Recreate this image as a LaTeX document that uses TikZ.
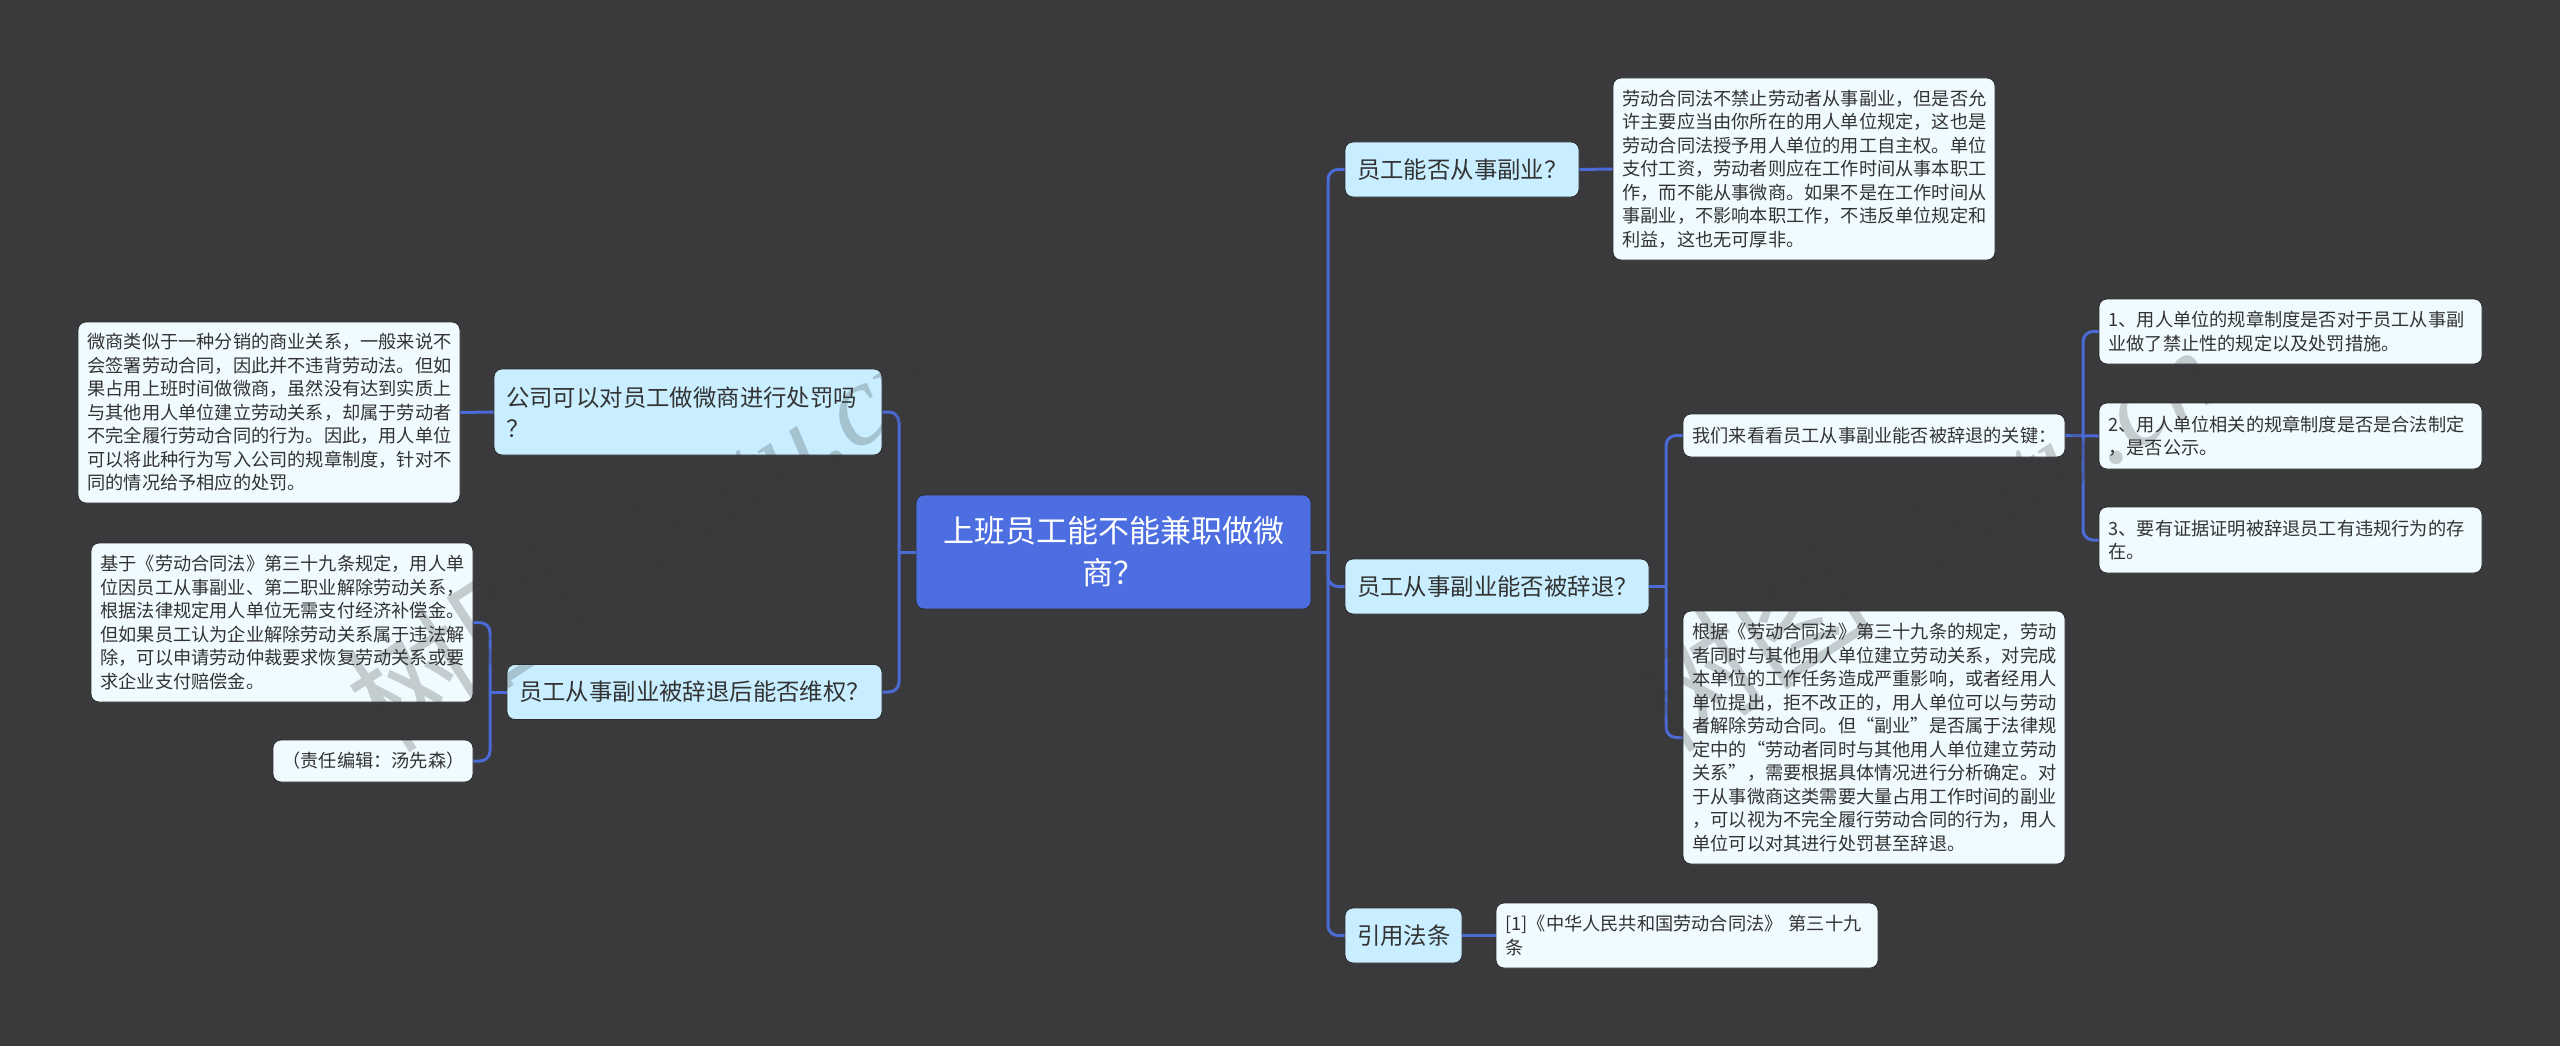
\documentclass[tikz,border=0pt]{standalone}
\usepackage{fontspec}
\setmainfont{Noto Sans CJK SC}
\newfontfamily\wmlatin{Liberation Serif}[ItalicFont={Liberation Serif Italic}]
\definecolor{bgc}{HTML}{3A393B}
\definecolor{linec}{HTML}{4A6BD6}
\definecolor{rootc}{HTML}{4C6EE0}
\definecolor{branchc}{HTML}{C8EEFF}
\definecolor{leafc}{HTML}{F0FBFF}
\definecolor{inkc}{HTML}{333333}
\definecolor{edgec}{HTML}{2C2C2E}
\definecolor{markc}{HTML}{38373A}
\tikzset{
  x=1pt,y=-1pt,
  card/.style={rectangle,rounded corners=8pt,inner sep=0pt,draw=edgec,line width=0.8pt},
  rootbox/.style={card,fill=rootc,text=white,align=center,font=\fontsize{31}{42}\selectfont},
  branchbox/.style 2 args={card,fill=branchc,text=inkc,align=left,
    minimum width=#1pt,minimum height=#2pt,text width={#1pt-24pt},font=\fontsize{23.4}{31}\selectfont},
  leafbox/.style 2 args={card,fill=leafc,text=inkc,align=left,
    minimum width=#1pt,minimum height=#2pt,text width={#1pt-19pt},font=\fontsize{18.2}{23.5}\selectfont},
  conn/.style={draw=linec,line width=3pt,rounded corners=10pt},
  mark text/.style={text=markc,text opacity=0.24,rotate=33,inner sep=0pt},
}
\begin{document}
\begin{tikzpicture}
\fill[bgc] (0,0) rectangle (2560,1046);
\useasboundingbox (0,0) rectangle (2560,1046);

\node[rootbox,minimum width=395pt,minimum height=114pt,text width=370pt] (root) at (1113.5,552) {上班员工能不能兼职做微\\商？};

% left side
\node[branchbox={388}{86}] (bl1) at (688,412) {公司可以对员工做微商进行处罚吗\\？};
\node[branchbox={375}{55}] (bl2) at (694.5,692) {员工从事副业被辞退后能否维权？};
\node[leafbox={382}{181}] (ll1) at (269,412.5) {微商类似于一种分销的商业关系，一般来说不\\会签署劳动合同，因此并不违背劳动法。但如\\果占用上班时间做微商，虽然没有达到实质上\\与其他用人单位建立劳动关系，却属于劳动者\\不完全履行劳动合同的行为。因此，用人单位\\可以将此种行为写入公司的规章制度，针对不\\同的情况给予相应的处罚。};
\node[leafbox={382}{159}] (ll2) at (282,622.5) {基于《劳动合同法》第三十九条规定，用人单\\位因员工从事副业、第二职业解除劳动关系，\\根据法律规定用人单位无需支付经济补偿金。\\但如果员工认为企业解除劳动关系属于违法解\\除，可以申请劳动仲裁要求恢复劳动关系或要\\求企业支付赔偿金。};
\node[leafbox={200}{42}] (ll3) at (373,761) {（责任编辑：汤先森）};

% right side
\node[branchbox={234}{55}] (br1) at (1462,169.5) {员工能否从事副业？};
\node[branchbox={304}{55}] (br2) at (1497,586.5) {员工从事副业能否被辞退？};
\node[branchbox={117}{55}] (br3) at (1403.5,935.5) {引用法条};
\node[leafbox={382}{182}] (lr1) at (1804,169) {劳动合同法不禁止劳动者从事副业，但是否允\\许主要应当由你所在的用人单位规定，这也是\\劳动合同法授予用人单位的用工自主权。单位\\支付工资，劳动者则应在工作时间从事本职工\\作，而不能从事微商。如果不是在工作时间从\\事副业，不影响本职工作，不违反单位规定和\\利益，这也无可厚非。};
\node[leafbox={382}{43}] (lr2) at (1874,435.5) {我们来看看员工从事副业能否被辞退的关键：};
\node[leafbox={382}{253}] (lr3) at (1874,737.5) {根据《劳动合同法》第三十九条的规定，劳动\\者同时与其他用人单位建立劳动关系，对完成\\本单位的工作任务造成严重影响，或者经用人\\单位提出，拒不改正的，用人单位可以与劳动\\者解除劳动合同。但“副业”是否属于法律规\\定中的“劳动者同时与其他用人单位建立劳动\\关系”，需要根据具体情况进行分析确定。对\\于从事微商这类需要大量占用工作时间的副业\\，可以视为不完全履行劳动合同的行为，用人\\单位可以对其进行处罚甚至辞退。};
\node[leafbox={382}{65}] (lr4) at (1687,935.5) {[1]《中华人民共和国劳动合同法》 第三十九\\条};
\node[leafbox={383}{65}] (kk1) at (2290.5,331.5) {1、用人单位的规章制度是否对于员工从事副\\业做了禁止性的规定以及处罚措施。};
\node[leafbox={383}{66}] (kk2) at (2290.5,436) {2、用人单位相关的规章制度是否是合法制定\\，是否公示。};
\node[leafbox={383}{66}] (kk3) at (2290.5,540) {3、要有证据证明被辞退员工有违规行为的存\\在。};

% junction points
\coordinate (tl) at (899,552);
\coordinate (tr) at (1328,552);
\coordinate (jl) at (490,692);
\coordinate (jr) at (1666,586.5);
\coordinate (jk) at (2083,435.5);

% connectors
\draw[conn] (root.west) -- (tl);
\draw[conn] (bl1.east) -| (tl);
\draw[conn] (bl2.east) -| (tl);
\draw[conn] (root.east) -- (tr);
\draw[conn] (br1.west) -| (tr);
\draw[conn] (br2.west) -| (tr);
\draw[conn] (br3.west) -| (tr);
\draw[conn] (bl1.west) -- (ll1.east);
\draw[conn] (bl2.west) -- (jl);
\draw[conn] (ll2.east) -| (jl);
\draw[conn] (ll3.east) -| (jl);
\draw[conn] (br1.east) -- (lr1.west);
\draw[conn] (br3.east) -- (lr4.west);
\draw[conn] (br2.east) -- (jr);
\draw[conn] (lr2.west) -| (jr);
\draw[conn] (lr3.west) -| (jr);
\draw[conn] (lr2.east) -- (kk2.west);
\draw[conn] (kk1.west) -| (jk);
\draw[conn] (kk3.west) -| (jk);

% watermark
\node[mark text] (wm1) at (640,535) {\fontsize{125}{125}\selectfont 树图 {\wmlatin\itshape\fontsize{115}{115}\selectfont shutu.cn}};
\node[mark text] (wm2) at (1920,535) {\fontsize{125}{125}\selectfont 树图 {\wmlatin\itshape\fontsize{115}{115}\selectfont shutu.cn}};
\end{tikzpicture}
\end{document}
